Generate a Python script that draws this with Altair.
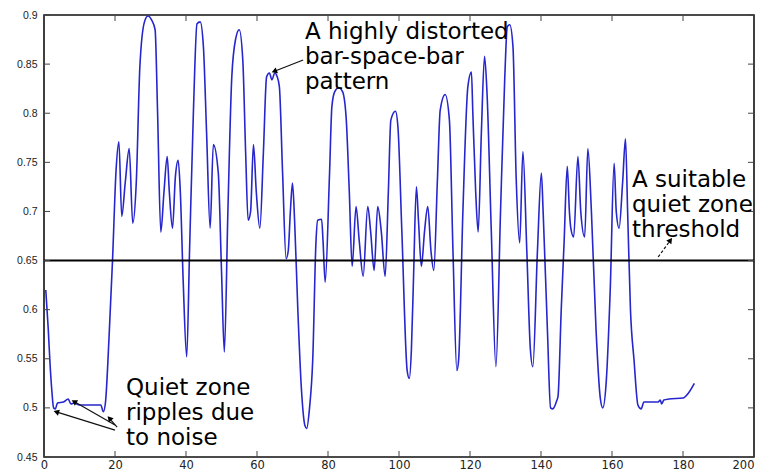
import math
import altair as alt
import pandas as pd

# ---- signal ----
sig_x = [0.5, 1.2, 1.7, 2.2, 2.7, 3.2, 3.8, 5.5, 6.8, 7.6, 8.5, 10, 13, 16, 16.7, 17.3, 18.3, 19.3,
         20.3, 21.1, 21.9, 22.9, 24.0, 25.0, 26.0, 27.0, 28.3, 29.3, 30.3, 31.3, 32.0, 32.9, 33.8, 34.7,
         35.3, 36.2, 37.0, 37.8, 38.4, 39.2, 40.2, 41.0, 42.1, 43.1, 44.0, 44.9, 45.8, 46.8, 47.7, 49.1,
         50.0, 50.8, 51.8, 52.9, 54.0, 55.0, 56.0, 56.8, 57.5, 58.2, 59.0, 59.8, 60.8, 61.8, 62.7, 63.5,
         64.2, 65.0, 65.6, 66.3, 67.2, 68.2, 68.8, 69.4, 70.0, 70.6, 71.5, 72.5, 73.5, 74.0, 74.8, 75.7,
         76.6, 77.1, 78.2, 78.6, 79.2, 80.4, 81.1, 81.9, 83.0, 84.1, 85.1, 86.0, 86.8, 87.9, 88.8, 89.9,
         91.2, 92.0, 93.0, 94.0, 95.0, 96.1, 97.0, 97.7, 99.0, 99.7, 100.8, 102.3, 102.9, 103.5, 104.1,
         104.9, 105.5, 106.3, 107.2, 108.1, 109.0, 109.8, 110.8, 111.6, 113.0, 114.2, 115.2, 116.3, 116.8,
         118.0, 119.4, 120.4, 120.8, 121.6, 122.3, 123.2, 124.1, 124.8, 126.0, 127.3, 128.6, 129.8, 130.5,
         131.2, 132.1, 133.0, 134.0, 134.9, 136.0, 137.0, 137.7, 139.0, 140.1, 140.6, 141.8, 142.7, 143.3,
         144.4, 144.8, 145.7, 146.5, 147.4, 148.0, 148.4, 149.2, 150.4, 151.2, 152.3, 153.2, 154.2, 155.5,
         156.7, 157.4, 158.4, 159.5, 160.6, 161.2, 162.0, 163.0, 163.8, 164.4, 165.2, 166.2, 167.3, 168.2,
         169.0, 173.0, 173.6, 174.0, 174.6, 176.0, 180.0, 181.5, 183.2]
sig_y = [0.620, 0.580, 0.545, 0.518, 0.500, 0.499, 0.505, 0.506, 0.509, 0.504, 0.505, 0.503, 0.503, 0.503,
         0.496, 0.505, 0.570, 0.650, 0.742, 0.771, 0.695, 0.730, 0.764, 0.688, 0.730, 0.847, 0.893, 0.899,
         0.895, 0.885, 0.800, 0.679, 0.720, 0.756, 0.720, 0.683, 0.735, 0.752, 0.720, 0.630, 0.552, 0.660,
         0.803, 0.891, 0.893, 0.868, 0.780, 0.683, 0.768, 0.739, 0.640, 0.557, 0.700, 0.837, 0.876, 0.885,
         0.854, 0.760, 0.691, 0.700, 0.768, 0.720, 0.683, 0.760, 0.837, 0.841, 0.834, 0.841, 0.838, 0.827,
         0.740, 0.652, 0.660, 0.700, 0.729, 0.690, 0.600, 0.520, 0.482, 0.479, 0.500, 0.549, 0.668, 0.691,
         0.692, 0.670, 0.628, 0.735, 0.807, 0.822, 0.826, 0.822, 0.796, 0.720, 0.644, 0.705, 0.670, 0.634,
         0.705, 0.680, 0.640, 0.705, 0.680, 0.634, 0.720, 0.793, 0.802, 0.786, 0.680, 0.538, 0.530, 0.560,
         0.634, 0.725, 0.690, 0.644, 0.680, 0.705, 0.660, 0.640, 0.730, 0.803, 0.819, 0.793, 0.660, 0.538,
         0.549, 0.700, 0.827, 0.842, 0.800, 0.720, 0.679, 0.780, 0.858, 0.820, 0.680, 0.542, 0.700, 0.837,
         0.888, 0.890, 0.868, 0.735, 0.668, 0.761, 0.660, 0.560, 0.542, 0.660, 0.739, 0.700, 0.580, 0.500,
         0.499, 0.507, 0.512, 0.600, 0.668, 0.746, 0.700, 0.683, 0.674, 0.756, 0.700, 0.674, 0.764, 0.700,
         0.580, 0.510, 0.500, 0.528, 0.620, 0.749, 0.700, 0.683, 0.730, 0.774, 0.700, 0.600, 0.549, 0.503,
         0.499, 0.506, 0.506, 0.508, 0.504, 0.508, 0.509, 0.510, 0.515, 0.525]

threshold = [0.65]

x_ticks = [0, 20, 40, 60, 80, 100, 120, 140, 160, 180, 200]
y_ticks = [0.45, 0.5, 0.55, 0.6, 0.65, 0.7, 0.75, 0.8, 0.85, 0.9]

ann_text = ["A highly distorted\nbar-space-bar\npattern",
            "A suitable\nquiet zone\nthreshold",
            "Quiet zone\nripples due\nto noise"]
ann_x = [73.5, 165.6, 23.1]
ann_y = [0.8822, 0.732, 0.5207]   # first line of each note

# arrows: tail -> head
arr_x = [73.0, 173.0, 20.0, 20.0, 20.6]
arr_y = [0.8542, 0.6536, 0.4774, 0.4825, 0.4804]
arr_x2 = [65.1, 176.3, 3.7, 8.7, 18.6]
arr_y2 = [0.8430, 0.6699, 0.4957, 0.5059, 0.4886]
arr_dash = ["solid", "dash", "solid", "solid", "solid"]

W, H = 710, 442
XD, YD = [0, 200], [0.45, 0.9]
sx = W / (XD[1] - XD[0])
sy = H / (YD[1] - YD[0])

sig_df = pd.DataFrame({"x": sig_x, "y": sig_y})
thr_df = pd.DataFrame({"y": threshold})
ann_df = pd.DataFrame({"x": ann_x, "y": ann_y, "t": ann_text})
angles = []
for a, b, c, d in zip(arr_x, arr_y, arr_x2, arr_y2):
    dx = (c - a) * sx
    dy = -(d - b) * sy
    angles.append(math.degrees(math.atan2(dx, -dy)) % 360)
arr_df = pd.DataFrame({"x": arr_x, "y": arr_y, "x2": arr_x2, "y2": arr_y2,
                       "ang": angles, "dash": arr_dash})
xt_df = pd.DataFrame({"v": x_ticks})
yt_df = pd.DataFrame({"v": y_ticks})

xscale = alt.Scale(domain=XD, nice=False, zero=False)
yscale = alt.Scale(domain=YD, nice=False, zero=False)
xaxis = alt.Axis(values=x_ticks, format="d", ticks=False, tickSize=0, domain=False, grid=False,
                 labelFont="DejaVu Sans", labelFontSize=11.5, labelColor="#222", labelPadding=2,
                 labelFlush=False,
                 labelAlign=alt.ExprRef(expr=f"datum.value == {XD[1]} ? 'right' : 'center'"))
yaxis = alt.Axis(values=y_ticks, format=".2~f", ticks=False, tickSize=0, domain=False, grid=False,
                 labelFont="Liberation Sans", labelFontSize=10.5, labelColor="#222", labelPadding=7)


def X(f):
    return alt.X(f, type="quantitative", scale=xscale, axis=xaxis, title=None)


def Y(f):
    return alt.Y(f, type="quantitative", scale=yscale, axis=yaxis, title=None)


signal = alt.Chart(sig_df).mark_line(color="#2626cc", strokeWidth=1.6, interpolate="monotone").encode(
    x=X("x"), y=Y("y"))

thr = alt.Chart(thr_df).mark_rule(color="#000", strokeWidth=2).encode(y=Y("y"))

tick_col = "#444"
lt = alt.Chart(yt_df).mark_rule(color=tick_col, strokeWidth=1).encode(
    y=Y("v"), x=alt.value(0), x2=alt.value(6))
rt = alt.Chart(yt_df).mark_rule(color=tick_col, strokeWidth=1).encode(
    y=Y("v"), x=alt.value(W - 6), x2=alt.value(W))
bt = alt.Chart(xt_df).mark_rule(color=tick_col, strokeWidth=1).encode(
    x=X("v"), y=alt.value(H), y2=alt.value(H - 6))
tt = alt.Chart(xt_df).mark_rule(color=tick_col, strokeWidth=1).encode(
    x=X("v"), y=alt.value(0), y2=alt.value(6))

text = alt.Chart(ann_df).mark_text(
    align="left", baseline="middle", font="DejaVu Sans", fontSize=23, lineHeight=25,
    lineBreak="\n", color="#000").encode(x=X("x"), y=Y("y"), text="t:N")

arr_solid = alt.Chart(arr_df[arr_df.dash == "solid"]).mark_rule(color="#111", strokeWidth=1.2).encode(
    x=X("x"), y=Y("y"), x2="x2", y2="y2")
arr_dashed = alt.Chart(arr_df[arr_df.dash == "dash"]).mark_rule(
    color="#111", strokeWidth=1.2, strokeDash=[3, 2]).encode(
    x=X("x"), y=Y("y"), x2="x2", y2="y2")
heads = alt.Chart(arr_df).mark_point(shape="triangle", filled=True, color="#000", size=40, opacity=1).encode(
    x=X("x2"), y=Y("y2"), angle=alt.Angle("ang:Q", scale=None))

chart = alt.layer(signal, thr, lt, rt, bt, tt, arr_solid, arr_dashed, heads, text).properties(
    width=W, height=H,
    autosize=alt.AutoSizeParams(type="none"),
    padding={"left": 36, "top": 7, "right": 4, "bottom": 17},
    background="white",
).configure_view(stroke="#111", strokeWidth=1.6)

chart.save("out.html", embed_options={"renderer": "svg", "actions": False})
